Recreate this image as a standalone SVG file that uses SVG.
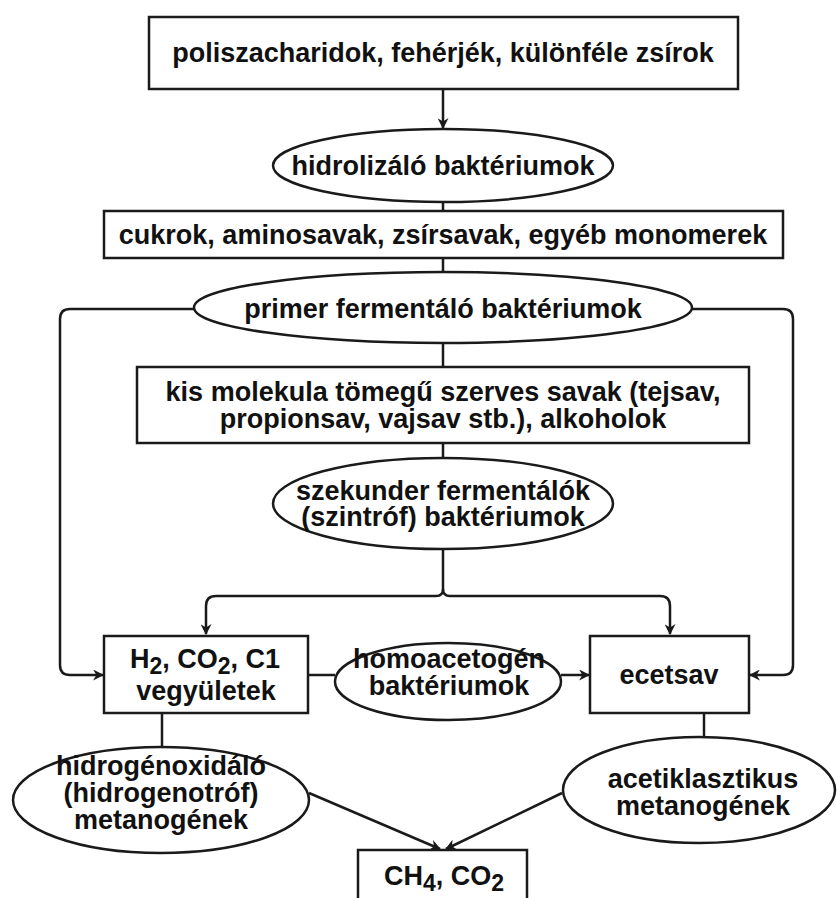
<svg xmlns="http://www.w3.org/2000/svg" width="837" height="898" viewBox="0 0 837 898">
<style>
  .box { fill: #fff; stroke: #1a1a1a; stroke-width: 2.5; }
  .ell { fill: #fff; stroke: #1a1a1a; stroke-width: 2.5; }
  .con { fill: none; stroke: #1a1a1a; stroke-width: 2.5; }
  text { font-family: "Liberation Sans", Arial, sans-serif; font-weight: bold; font-size: 27px; fill: #111; text-anchor: middle; }
  .sub { font-size: 23px; }
</style>
<defs>
  <marker id="arr" viewBox="0 0 10 10" refX="9" refY="5" markerWidth="11" markerHeight="11" markerUnits="userSpaceOnUse" orient="auto">
    <path d="M0,0 L10,5 L0,10 L3,5 z" fill="#1a1a1a"/>
  </marker>
</defs>
<rect width="837" height="898" fill="#fff"/>

<g id="connectors">
  <line class="con" x1="443" y1="89" x2="443" y2="128" marker-end="url(#arr)"/>
  <line class="con" x1="443" y1="202" x2="443" y2="211"/>
  <line class="con" x1="443" y1="258" x2="443" y2="272"/>
  <line class="con" x1="443" y1="343" x2="443" y2="367"/>
  <line class="con" x1="443" y1="443" x2="443" y2="458"/>
  <path class="con" d="M443,549 V589 Q443,596 436,596 H216 Q206,596 206,606 V634" marker-end="url(#arr)"/>
  <path class="con" d="M443,589 Q443,596 450,596 H660 Q670,596 670,606 V634" marker-end="url(#arr)"/>
  <path class="con" d="M194,309 H70 Q60,309 60,319 V665 Q60,675 70,675 H103" marker-end="url(#arr)"/>
  <path class="con" d="M692,309 H783 Q793,309 793,319 V665 Q793,675 783,675 H750" marker-end="url(#arr)"/>
  <line class="con" x1="308" y1="675" x2="335" y2="675"/>
  <line class="con" x1="561" y1="675" x2="589" y2="675" marker-end="url(#arr)"/>
  <line class="con" x1="162" y1="713" x2="162" y2="747"/>
  <line class="con" x1="704" y1="713" x2="704" y2="737.5"/>
  <line class="con" x1="309" y1="793" x2="440" y2="849" marker-end="url(#arr)"/>
  <line class="con" x1="562" y1="793" x2="446" y2="849" marker-end="url(#arr)"/>
</g>

<g id="n-poli">
  <rect class="box" x="149" y="17" width="589" height="72"/>
  <text x="443" y="62">poliszacharidok, fehérjék, különféle zsírok</text>
</g>
<g id="n-hidrolizalo">
  <ellipse class="ell" cx="443" cy="165.5" rx="170" ry="36.5"/>
  <text x="443" y="175">hidrolizáló baktériumok</text>
</g>
<g id="n-cukrok">
  <rect class="box" x="104" y="211" width="679" height="47"/>
  <text x="443" y="244">cukrok, aminosavak, zsírsavak, egyéb monomerek</text>
</g>
<g id="n-primer">
  <ellipse class="ell" cx="443" cy="307.5" rx="249" ry="35.5"/>
  <text x="443" y="318">primer fermentáló baktériumok</text>
</g>
<g id="n-kis">
  <rect class="box" x="137" y="367" width="612" height="76"/>
  <text x="443" y="401">kis molekula tömegű szerves savak (tejsav,</text>
  <text x="443" y="428">propionsav, vajsav stb.), alkoholok</text>
</g>
<g id="n-szekunder">
  <ellipse class="ell" cx="443" cy="503.5" rx="170" ry="45.5"/>
  <text x="443" y="500">szekunder fermentálók</text>
  <text x="443" y="526">(szintróf) baktériumok</text>
</g>
<g id="n-h2">
  <rect class="box" x="104" y="636" width="204" height="77"/>
  <text x="205" y="668">H<tspan class="sub" dy="6">2</tspan><tspan dy="-6">, CO</tspan><tspan class="sub" dy="6">2</tspan><tspan dy="-6">, C1</tspan></text>
  <text x="206" y="700">vegyületek</text>
</g>
<g id="n-homoacetogen">
  <ellipse class="ell" cx="448" cy="681.5" rx="113" ry="38.5"/>
  <text x="449" y="668">homoacetogén</text>
  <text x="449" y="695">baktériumok</text>
</g>
<g id="n-ecetsav">
  <rect class="box" x="590" y="636" width="159" height="77"/>
  <text x="669" y="684">ecetsav</text>
</g>
<g id="n-hidrogenoxidalo">
  <ellipse class="ell" cx="161" cy="800" rx="148" ry="53"/>
  <text x="161" y="775">hidrogénoxidáló</text>
  <text x="161" y="802">(hidrogenotróf)</text>
  <text x="161" y="829">metanogének</text>
</g>
<g id="n-acetiklasztikus">
  <ellipse class="ell" cx="699" cy="790" rx="136" ry="53"/>
  <text x="703" y="788">acetiklasztikus</text>
  <text x="703" y="815">metanogének</text>
</g>
<g id="n-ch4">
  <rect class="box" x="358" y="850" width="169" height="70"/>
  <text x="444" y="885">CH<tspan class="sub" dy="6">4</tspan><tspan dy="-6">, CO</tspan><tspan class="sub" dy="6">2</tspan></text>
</g>
</svg>
